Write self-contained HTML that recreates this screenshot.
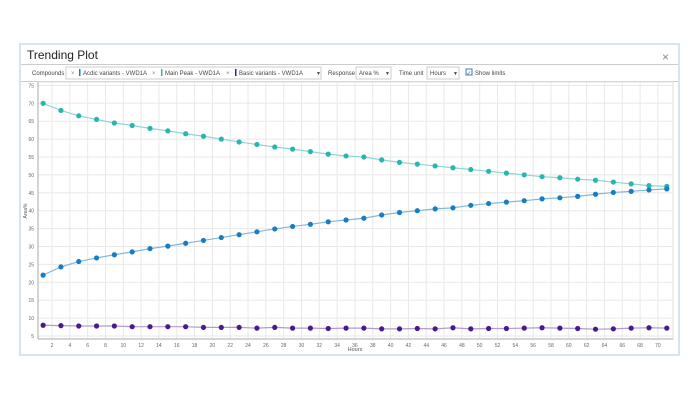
<!DOCTYPE html>
<html><head><meta charset="utf-8"><style>
body{margin:0;width:700px;height:400px;background:#fff;font-family:"Liberation Sans",sans-serif;overflow:hidden}
svg text{font-family:"Liberation Sans",sans-serif}
</style></head><body>
<svg id="c" width="700" height="400" xmlns="http://www.w3.org/2000/svg">
<rect x="20" y="44" width="659" height="311" fill="#fff" stroke="#d6e4ef" stroke-width="2"/>
<text x="27" y="59" font-size="12" fill="#222">Trending Plot</text>
<text x="662" y="61" font-size="12" fill="#888">×</text>
<line x1="21" y1="64.5" x2="678" y2="64.5" stroke="#ccc"/>
<g font-size="6" fill="#444">
<text x="32" y="75">Compounds</text>
<rect x="66" y="67" width="255" height="12" fill="#fff" stroke="#ccc"/>
<text x="71" y="75" fill="#888">×</text>
<rect x="79" y="69" width="1.5" height="7" fill="#1a7cc4"/>
<text x="83" y="75">Acdic variants - VWD1A</text>
<text x="152" y="75" fill="#888">×</text>
<rect x="161" y="69" width="1.5" height="7" fill="#2bb5b0"/>
<text x="165" y="75">Main Peak - VWD1A</text>
<text x="226" y="75" fill="#888">×</text>
<rect x="235" y="69" width="1.5" height="7" fill="#4a1a8c"/>
<text x="239" y="75">Basic variants - VWD1A</text>
<text x="316" y="75" font-size="5">▼</text>
<text x="328" y="75">Response</text>
<rect x="356" y="67" width="35" height="12" fill="#fff" stroke="#ccc"/>
<text x="359" y="75">Area %</text>
<text x="385" y="75" font-size="5">▼</text>
<text x="399" y="75">Time unit</text>
<rect x="427" y="67" width="32" height="12" fill="#fff" stroke="#ccc"/>
<text x="430" y="75">Hours</text>
<text x="453" y="75" font-size="5">▼</text>
<rect x="466" y="69" width="6" height="6" fill="#fff" stroke="#3a7fc1"/>
<text x="466.5" y="75" font-size="6" fill="#3a7fc1">✓</text>
<text x="475" y="75">Show limits</text>
</g>
<line x1="21" y1="81.5" x2="678" y2="81.5" stroke="#ccc"/>
<g id="grid"></g><g id="axes"></g><g id="series"></g>
<text transform="translate(27,211) rotate(-90)" font-size="5" fill="#555" text-anchor="middle">Area%</text>
<text x="355" y="351" font-size="5.5" fill="#555" text-anchor="middle">Hours</text>
</svg>
<script>
const hours=[1,3,5,7,9,11,13,15,17,19,21,23,25,27,29,31,33,35,37,39,41,43,45,47,49,51,53,55,57,59,61,63,65,67,69,71];
const mainPeak=[70,68,66.5,65.5,64.5,63.8,63,62.3,61.5,60.8,60,59.2,58.5,57.8,57.2,56.5,55.8,55.3,55,54.2,53.5,53,52.5,52,51.5,51,50.5,50,49.5,49.2,48.8,48.5,48,47.5,47,46.8];
const acidic=[22,24.3,25.8,26.8,27.7,28.5,29.4,30.1,30.9,31.7,32.5,33.3,34.1,34.9,35.6,36.2,36.9,37.4,37.9,38.8,39.5,40,40.5,40.8,41.5,42,42.4,42.8,43.3,43.6,44,44.6,45.1,45.4,45.8,46.1];
const basic=[8,7.9,7.8,7.8,7.8,7.6,7.6,7.6,7.6,7.4,7.4,7.4,7.2,7.4,7.2,7.2,7.1,7.2,7.2,7.0,7.0,7.1,7.0,7.3,7.0,7.1,7.1,7.2,7.3,7.2,7.1,6.9,7.0,7.2,7.3,7.2];
const xTicks=[2,4,6,8,10,12,14,16,18,20,22,24,26,28,30,32,34,36,38,40,42,44,46,48,50,52,54,56,58,60,62,64,66,68,70];
const yTicks=[5,10,15,20,25,30,35,40,45,50,55,60,65,70,75];
const NS='http://www.w3.org/2000/svg';
const X=h=>43.1+(h-1)*8.91;
const Y=v=>336-(v-5)*3.58;
const L=38,R=673,T=82,B=339;
function mk(tag,attrs,parent){const e=document.createElementNS(NS,tag);for(const k in attrs)e.setAttribute(k,attrs[k]);parent.appendChild(e);return e;}
const grid=document.getElementById('grid'),axes=document.getElementById('axes'),ser=document.getElementById('series');
mk('rect',{x:L,y:T,width:R-L,height:B-T,fill:'#fff',stroke:'#e2e2e2'},grid);
xTicks.forEach(t=>{
 const g=mk('line',{x1:X(t),x2:X(t),y1:T,y2:B,stroke:'#e8e8e8'},grid);
 
 
 const tx=mk('text',{x:X(t),y:B+8,'font-size':5,fill:'#666','text-anchor':'middle'},axes);
 tx.textContent=t;
 
 
});
yTicks.forEach(t=>{
 const g=mk('line',{x1:L,x2:R,y1:Y(t),y2:Y(t),stroke:'#e8e8e8'},grid);
 
 
 const tx=mk('text',{x:L-4,y:Y(t)+2,'font-size':5,fill:'#666','text-anchor':'end'},axes);
 tx.textContent=t;
 
 
});
const ya=mk('line',{x1:L,x2:L,y1:T,y2:B,stroke:'#aaa'},axes);


const xa=mk('line',{x1:L,x2:R,y1:B,y2:B,stroke:'#aaa'},axes);


function draw(vals,line,dot,name){
 const g=mk('g',{},ser);
 
 
 const p=mk('polyline',{points:vals.map((v,i)=>X(hours[i])+','+Y(v)).join(' '),fill:'none',stroke:line,'stroke-width':1.2},g);
 
 
 vals.forEach((v,i)=>{
  const c=mk('circle',{cx:X(hours[i]),cy:Y(v),r:2.6,fill:dot},g);
  
  
 });
}
draw(mainPeak,'#8fd6d3','#2bb5b0','main-peak');
draw(acidic,'#7fb8e0','#1a7cc4','acidic-variants');
draw(basic,'#b49ad0','#4a1a8c','basic-variants');
</script>
</body></html>
